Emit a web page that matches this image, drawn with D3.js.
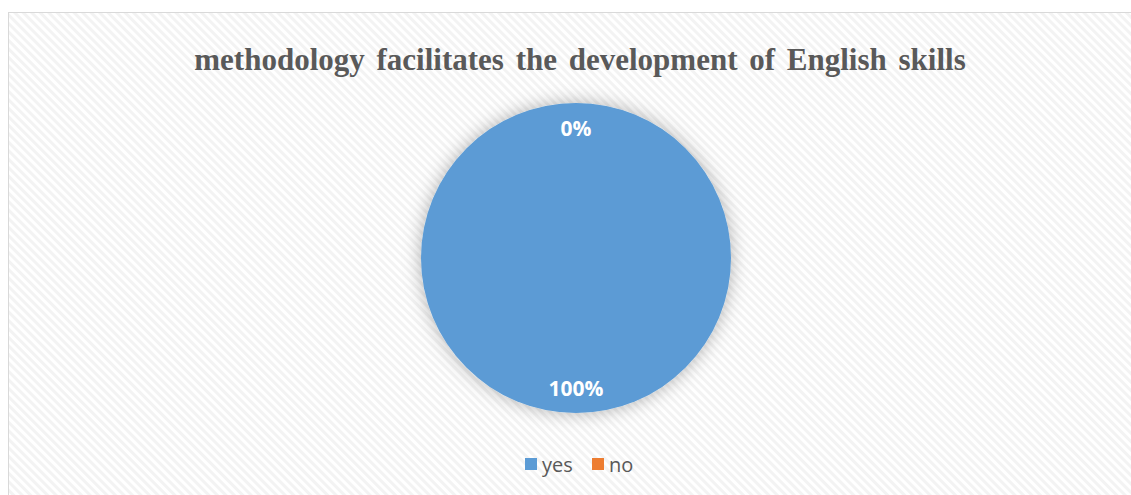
<!DOCTYPE html>
<html>
<head>
<meta charset="utf-8">
<script src="https://cdn.jsdelivr.net/npm/d3@7"></script>
<style>
  html, body { margin: 0; padding: 0; background: #ffffff; }
  svg { display: block; }
</style>
</head>
<body>
<svg id="chart" width="1131" height="495"></svg>
<script>
// Survey answers
const categories = ["yes", "no"];
const values = [100, 0];
const colors = ["#5b9bd5", "#ed7d31"];
const title = "methodology facilitates the development of English skills";

const svg = d3.select("#chart");
const W = 1131, H = 495;

const defs = svg.append("defs");

// Diagonal hatch for the chart area background
const pat = defs.append("pattern")
  .attr("id", "hatch")
  .attr("patternUnits", "userSpaceOnUse")
  .attr("width", 6).attr("height", 6)
  .attr("patternTransform", "rotate(-45)");
pat.append("rect").attr("width", 6).attr("height", 6).attr("fill", "#ffffff");
pat.append("rect").attr("width", 3).attr("height", 6).attr("fill", "#f3f3f3");

// Soft shadow around the pie
const f = defs.append("filter").attr("id", "shadow")
  .attr("x", "-30%").attr("y", "-30%").attr("width", "160%").attr("height", "160%");
f.append("feDropShadow")
  .attr("dx", 0).attr("dy", 0)
  .attr("stdDeviation", 9)
  .attr("flood-color", "#000000")
  .attr("flood-opacity", 0.3);

// Chart frame
svg.append("rect")
  .attr("x", 8.5).attr("y", 12.5)
  .attr("width", W).attr("height", H)
  .attr("fill", "url(#hatch)")
  .attr("stroke", "#d9d9d9")
  .attr("stroke-width", 1);

// Title
svg.append("text")
  .attr("x", 580).attr("y", 70)
  .attr("text-anchor", "middle")
  .attr("font-family", "'Liberation Serif', 'Times New Roman', serif")
  .attr("font-weight", "bold")
  .attr("font-size", 31)
  .attr("word-spacing", 4)
  .attr("fill", "#595959")
  .text(title);

// Pie
const cx = 576, cy = 258, r = 155;
const pie = d3.pie().sort(null).value(d => d.value);
const data = categories.map((c, i) => ({ name: c, value: values[i], color: colors[i] }));
const arcs = pie(data);
const arc = d3.arc().innerRadius(0).outerRadius(r);
const labelArc = d3.arc().innerRadius(130).outerRadius(130);
const total = d3.sum(values);

const g = svg.append("g").attr("transform", `translate(${cx},${cy})`);
g.append("g").attr("filter", "url(#shadow)")
  .selectAll("path")
  .data(arcs)
  .join("path")
  .attr("d", arc)
  .attr("fill", d => d.data.color);

g.selectAll("text.lbl")
  .data(arcs)
  .join("text")
  .attr("class", "lbl")
  .attr("transform", d => `translate(${labelArc.centroid(d)})`)
  .attr("text-anchor", "middle")
  .attr("dominant-baseline", "central")
  .attr("font-family", "'Open Sans', 'Noto Sans', sans-serif")
  .attr("font-weight", "bold")
  .attr("font-size", 21)
  .attr("fill", "#ffffff")
  .text(d => Math.round(d.data.value / total * 100) + "%");

// Legend
const legend = svg.append("g").attr("transform", "translate(525,464)");
const offsets = [0, 67];
const item = legend.selectAll("g")
  .data(data)
  .join("g")
  .attr("transform", (d, i) => `translate(${offsets[i]},0)`);
item.append("rect")
  .attr("x", 0).attr("y", -6)
  .attr("width", 12).attr("height", 12)
  .attr("fill", d => d.color);
item.append("text")
  .attr("x", 17).attr("y", 0)
  .attr("dominant-baseline", "central")
  .attr("font-family", "'Open Sans', 'Noto Sans', sans-serif")
  .attr("font-size", 20)
  .attr("fill", "#595959")
  .text(d => d.name);
</script>
</body>
</html>
